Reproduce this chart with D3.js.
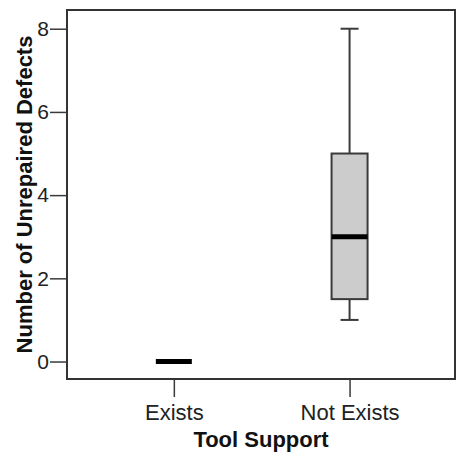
<!DOCTYPE html>
<html>
<head>
<meta charset="utf-8">
<script src="https://cdn.jsdelivr.net/npm/d3@7"></script>
<style>
  body { margin: 0; background: #fff; }
  text { font-family: "Liberation Sans", Arial, sans-serif; }
</style>
</head>
<body>
<div id="chart"></div>
<script>
// box plot summary per group
var groups = ["Exists", "Not Exists"];
var whiskerLow = [0, 1];
var q1 = [0, 1.5];
var median = [0, 3];
var q3 = [0, 5];
var whiskerHigh = [0, 8];
var yTicks = [0, 2, 4, 6, 8];

var W = 457, H = 452;
var margin = {top: 10, right: 2, bottom: 73, left: 67},
    width = W - margin.left - margin.right,
    height = H - margin.top - margin.bottom;

var svg = d3.select("#chart")
  .append("svg")
  .attr("width", W)
  .attr("height", H)
  .append("g")
  .attr("transform", "translate(" + margin.left + "," + margin.top + ")");

var data = groups.map(function(g, i) {
  return {name: g, pos: i + 1, lo: whiskerLow[i], q1: q1[i], med: median[i], q3: q3[i], hi: whiskerHigh[i]};
});

var x = d3.scaleLinear()
  .domain([0.392, 2.6])
  .range([0, width]);

var y = d3.scaleLinear()
  .domain([-0.42, 8.45])
  .range([height, 0]);

var boxW = 36, capW = 18;
var stroke = "#3a3a3a";

// boxes
var g = svg.append("g").selectAll("g.box")
  .data(data)
  .enter()
  .append("g");

g.filter(function(d) { return d.hi > d.lo; }).each(function(d) {
  var s = d3.select(this);
  var cx = x(d.pos);
  s.append("line")
    .attr("x1", cx).attr("x2", cx)
    .attr("y1", y(d.q3)).attr("y2", y(d.hi))
    .attr("stroke", stroke).attr("stroke-width", 2);
  s.append("line")
    .attr("x1", cx).attr("x2", cx)
    .attr("y1", y(d.lo)).attr("y2", y(d.q1))
    .attr("stroke", stroke).attr("stroke-width", 2);
  s.append("line")
    .attr("x1", cx - capW / 2).attr("x2", cx + capW / 2)
    .attr("y1", y(d.hi)).attr("y2", y(d.hi))
    .attr("stroke", stroke).attr("stroke-width", 2);
  s.append("line")
    .attr("x1", cx - capW / 2).attr("x2", cx + capW / 2)
    .attr("y1", y(d.lo)).attr("y2", y(d.lo))
    .attr("stroke", stroke).attr("stroke-width", 2);
  s.append("rect")
    .attr("x", cx - boxW / 2)
    .attr("y", y(d.q3))
    .attr("width", boxW)
    .attr("height", y(d.q1) - y(d.q3))
    .attr("fill", "#cccccc")
    .attr("stroke", stroke)
    .attr("stroke-width", 2);
});

g.append("line")
  .attr("x1", function(d) { return x(d.pos) - boxW / 2; })
  .attr("x2", function(d) { return x(d.pos) + boxW / 2; })
  .attr("y1", function(d) { return y(d.med); })
  .attr("y2", function(d) { return y(d.med); })
  .attr("stroke", "#000")
  .attr("stroke-width", 5);

// frame
svg.append("rect")
  .attr("x", 0).attr("y", 0)
  .attr("width", width).attr("height", height)
  .attr("fill", "none")
  .attr("stroke", "#333")
  .attr("stroke-width", 2);

// Y axis
var yAxis = svg.append("g")
  .call(d3.axisLeft(y).tickValues(yTicks).tickSize(17).tickPadding(1).tickFormat(d3.format("d")));
yAxis.select(".domain").remove();
yAxis.selectAll(".tick line").attr("stroke", stroke).attr("stroke-width", 1.5);
yAxis.selectAll(".tick text")
  .style("font-size", "21px")
  .attr("fill", "#222");

// X axis
var xAxis = svg.append("g")
  .attr("transform", "translate(0," + height + ")")
  .call(d3.axisBottom(x).tickValues(data.map(function(d) { return d.pos; }))
    .tickSize(18).tickPadding(7)
    .tickFormat(function(v) { return groups[v - 1]; }));
xAxis.select(".domain").remove();
xAxis.selectAll(".tick line").attr("stroke", stroke).attr("stroke-width", 1.5);
xAxis.selectAll(".tick text")
  .style("font-size", "22px")
  .attr("fill", "#222");

// axis titles
svg.append("text")
  .attr("x", width / 2)
  .attr("y", H - margin.top - 5)
  .attr("text-anchor", "middle")
  .style("font-size", "22px")
  .attr("font-weight", "bold")
  .attr("fill", "#111")
  .text("Tool Support");

svg.append("text")
  .attr("transform", "translate(" + (32 - margin.left) + "," + (height / 2) + ") rotate(-90)")
  .attr("text-anchor", "middle")
  .style("font-size", "22px")
  .attr("font-weight", "bold")
  .attr("fill", "#111")
  .text("Number of Unrepaired Defects");
</script>
</body>
</html>
